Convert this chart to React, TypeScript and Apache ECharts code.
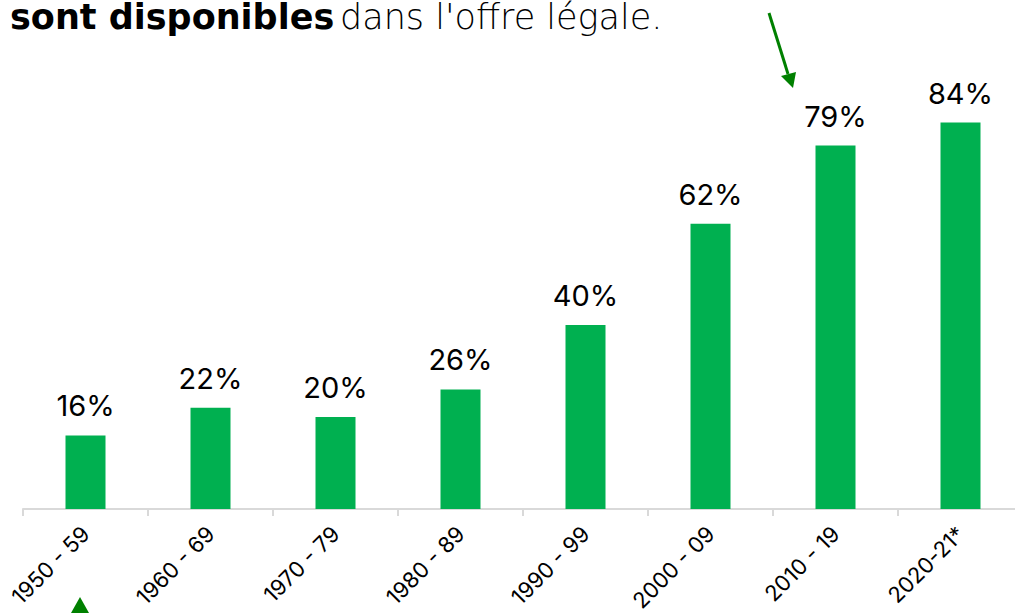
import React, { useEffect, useRef } from "react";
import * as echarts from "echarts";

const categories = ["1950 - 59", "1960 - 69", "1970 - 79", "1980 - 89", "1990 - 99", "2000 - 09", "2010 - 19", "2020-21*"];
const values = [16, 22, 20, 26, 40, 62, 79, 84];
const titleBold = "sont disponibles";
const titleRest = "dans l'offre légale.";

const FONT = "Inter, 'Noto Sans', sans-serif";
const TFONT = "'DejaVu Sans', sans-serif";

export default function App() {
  const ref = useRef<HTMLDivElement>(null);
  useEffect(() => {
    if (!ref.current) return;
    const chart = echarts.init(ref.current, undefined, { renderer: "svg" });
    chart.setOption({
      animation: false,
      backgroundColor: "#ffffff",
      grid: { left: 23, right: -8, top: 49, bottom: 104, outerBoundsMode: "none", containLabel: false },
      xAxis: {
        type: "category",
        data: categories,
        boundaryGap: true,
        axisLine: { lineStyle: { color: "#d9d9d9", width: 2 } },
        axisTick: { show: true, length: 7, lineStyle: { color: "#d9d9d9", width: 2 } },
        axisLabel: {
          rotate: 45,
          margin: 21,
          fontSize: 22,
          color: "#000000",
          fontFamily: FONT,
          interval: 0,
        },
      },
      yAxis: { type: "value", min: 0, max: 100, show: false, splitLine: { show: false } },
      series: [
        {
          type: "bar",
          data: values,
          barWidth: 40,
          itemStyle: { color: "#00b050" },
          label: {
            show: true,
            position: "top",
            distance: 15,
            formatter: "{c}%",
            fontSize: 29,
            color: "#000000",
            fontFamily: FONT,
          },
        },
      ],
      graphic: [
        {
          type: "text",
          x: 10,
          y: 34,
          style: {
            text: titleBold,
            fontSize: 35,
            fontWeight: "bold",
            fontFamily: TFONT,
            fill: "#000",
            verticalAlign: "bottom",
          },
        },
        {
          type: "text",
          x: 340,
          y: 34,
          style: {
            text: titleRest,
            fontSize: 35,
            fontWeight: 300,
            fontFamily: TFONT,
            fill: "#000",
            verticalAlign: "bottom",
          },
        },
        {
          type: "line",
          shape: { x1: 769, y1: 13, x2: 788, y2: 74 },
          style: { stroke: "#008000", lineWidth: 3 },
        },
        {
          type: "polygon",
          shape: { points: [[781, 76], [796, 72], [793, 88]] },
          style: { fill: "#008000" },
        },
        {
          type: "polygon",
          shape: { points: [[80, 597], [71, 613], [89, 613]] },
          style: { fill: "#008000" },
        },
      ],
    });
    return () => chart.dispose();
  }, []);
  return (
    <div
      ref={ref}
      style={{ position: "absolute", left: 0, top: 0, width: 1015, height: 613 }}
    />
  );
}
